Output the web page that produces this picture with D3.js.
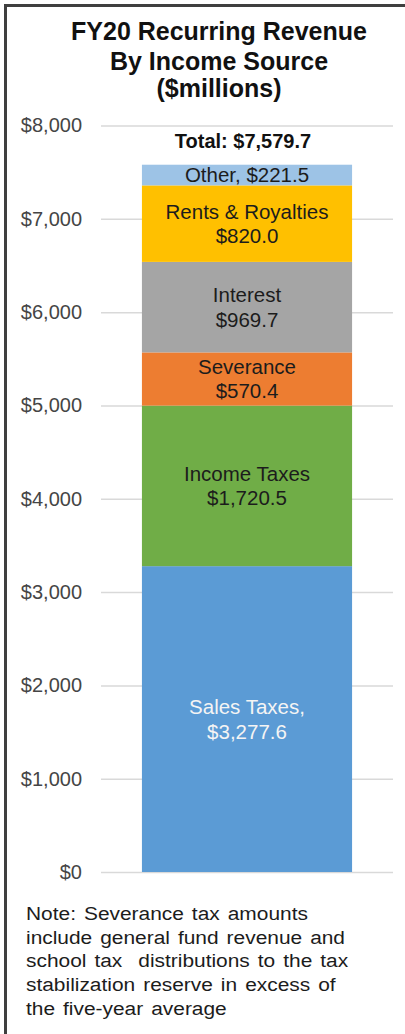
<!DOCTYPE html>
<html>
<head>
<meta charset="utf-8">
<script src="https://cdn.jsdelivr.net/npm/d3@7"></script>
<style>
  body { margin: 0; background: #fff; }
  svg { display: block; font-family: "Liberation Sans", Arial, sans-serif; }
</style>
</head>
<body>
<div id="chart"></div>
<script>
// data
const sources = ["Sales Taxes", "Income Taxes", "Severance", "Interest", "Rents & Royalties", "Other"];
const amounts = [3277.6, 1720.5, 570.4, 969.7, 820.0, 221.5];
const colors = ["#5b9bd5", "#70ad47", "#ed7d31", "#a5a5a5", "#ffc000", "#9dc3e6"];
const labelLines = [
  ["Sales Taxes,", "$3,277.6"],
  ["Income Taxes", "$1,720.5"],
  ["Severance", "$570.4"],
  ["Interest", "$969.7"],
  ["Rents & Royalties", "$820.0"],
  ["Other, $221.5"]
];
const yTicks = [0, 1000, 2000, 3000, 4000, 5000, 6000, 7000, 8000];
const titleLines = ["FY20 Recurring Revenue", "By Income Source", "($millions)"];
const noteLines = [
  "Note: Severance tax amounts",
  "include general fund revenue and",
  "school tax  distributions to the tax",
  "stabilization reserve in excess of",
  "the five-year average"
];

const W = 405, H = 1034;
const svg = d3.select("#chart").append("svg")
  .attr("width", W).attr("height", H);

// frame (top and left edge only)
svg.append("path")
  .attr("d", "M5.5,1034 V5.5 H405")
  .attr("fill", "none")
  .attr("stroke", "#3f3f3f")
  .attr("stroke-width", 3);

// title
svg.append("g").selectAll("text")
  .data(titleLines)
  .enter().append("text")
  .attr("x", 219)
  .attr("y", (d, i) => [40, 70, 97][i])
  .attr("text-anchor", "middle")
  .attr("font-size", "25px")
  .attr("font-weight", "bold")
  .attr("fill", "#111")
  .text(d => d);

const y = d3.scaleLinear().domain([0, 8000]).range([872, 125.5]);
const x = d3.scaleBand().domain(["FY20"]).range([101, 393]).padding(0.163);

// gridlines + tick labels
const yAxis = svg.append("g")
  .attr("transform", "translate(101,0)")
  .call(d3.axisLeft(y).tickValues(yTicks)
    .tickSize(-292).tickPadding(19)
    .tickFormat(d => "$" + d3.format(",")(d)));
yAxis.select(".domain").remove();
yAxis.selectAll(".tick line").attr("stroke", "#d9d9d9").attr("stroke-width", 1.5);
yAxis.selectAll(".tick text")
  .attr("font-size", "20px")
  .attr("font-family", "Liberation Sans, Arial, sans-serif")
  .attr("fill", "#454545");

// stacked segments
const stackData = [];
let run = 0;
amounts.forEach((v, i) => {
  stackData.push({ name: sources[i], v0: run, v1: run + v, color: colors[i], lines: labelLines[i] });
  run += v;
});
const total = run;

const seg = svg.append("g").selectAll("g")
  .data(stackData)
  .enter().append("g");

seg.append("rect")
  .attr("x", x("FY20"))
  .attr("width", x.bandwidth())
  .attr("y", d => y(d.v1))
  .attr("height", d => y(d.v0) - y(d.v1))
  .attr("fill", d => d.color);

seg.each(function(d, i) {
  const cy = (y(d.v0) + y(d.v1)) / 2;
  const n = d.lines.length;
  d3.select(this).selectAll("text")
    .data(d.lines)
    .enter().append("text")
    .attr("x", x("FY20") + x.bandwidth() / 2)
    .attr("y", (t, j) => cy + (j - (n - 1) / 2) * 24.5)
    .attr("dy", "0.35em")
    .attr("text-anchor", "middle")
    .attr("font-size", "20.5px")
    .attr("fill", i === 0 ? "#f4f4f4" : "#1c1c1c")
    .text(t => t);
});

// total label
svg.append("text")
  .attr("x", x("FY20") + x.bandwidth() / 2 - 4)
  .attr("y", 148)
  .attr("text-anchor", "middle")
  .attr("font-size", "20px")
  .attr("font-weight", "bold")
  .attr("fill", "#111")
  .text("Total: $" + d3.format(",.1f")(total));

// note
svg.append("g")
  .attr("transform", "translate(26,0) scale(1.1,1)")
  .selectAll("text")
  .data(noteLines)
  .enter().append("text")
  .attr("x", 0)
  .attr("y", (d, i) => 920 + i * 23.7)
  .attr("font-size", "19px")
  .attr("word-spacing", "2px")
  .attr("fill", "#1c1c1c")
  .style("white-space", "pre")
  .text(d => d);
</script>
</body>
</html>
